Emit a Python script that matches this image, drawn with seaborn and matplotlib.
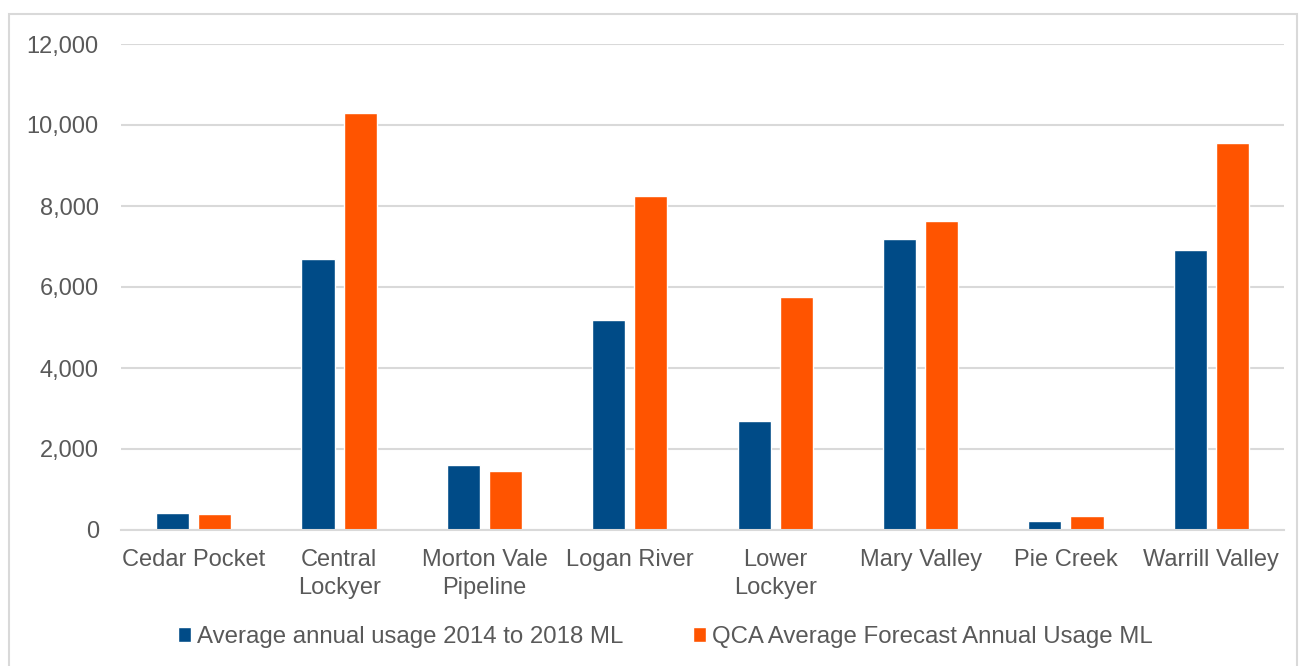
import matplotlib
matplotlib.use("Agg")
import matplotlib.pyplot as plt
from matplotlib.patches import Rectangle
from matplotlib.ticker import FuncFormatter
import seaborn as sns
import pandas as pd

schemes = ["Cedar Pocket", "Central\nLockyer", "Morton Vale\nPipeline", "Logan River",
           "Lower\nLockyer", "Mary Valley", "Pie Creek", "Warrill Valley"]
avg_usage_2014_2018 = [410, 6690, 1610, 5180, 2700, 7190, 220, 6910]
qca_forecast = [390, 10300, 1460, 8250, 5750, 7630, 340, 9550]
series_names = ["Average annual usage 2014 to 2018 ML",
                "QCA Average Forecast Annual Usage ML"]
y_ticks = [0, 2000, 4000, 6000, 8000, 10000, 12000]

df = pd.DataFrame({
    "scheme": schemes * 2,
    "usage": avg_usage_2014_2018 + qca_forecast,
    "series": [series_names[0]] * len(schemes) + [series_names[1]] * len(schemes),
})

sns.set_theme(style="white")
plt.rcParams["font.family"] = ["Liberation Sans", "DejaVu Sans"]

text_color = "#595959"
grid_color = "#d9d9d9"
colors = ["#004B87", "#FF5400"]

fig = plt.figure(figsize=(13, 6.66), dpi=100)
W, H = 1300, 666
ax = fig.add_axes([121 / W, 1 - 530 / H, (1284 - 121) / W, (530 - 44) / H])

sns.barplot(data=df, x="scheme", y="usage", hue="series", order=schemes,
            hue_order=series_names, palette=colors, width=0.58, gap=0.214,
            saturation=1, ax=ax)

ax.set_xlim(-0.5, len(schemes) - 0.5)
ax.set_ylim(0, 12000)
ax.set_yticks(y_ticks)
ax.yaxis.set_major_formatter(FuncFormatter(lambda v, p: f"{int(v):,}"))
ax.set_xlabel("")
ax.set_ylabel("")
ax.grid(axis="y", color=grid_color, linewidth=1.5)
ax.set_axisbelow(True)
for side in ["left", "right", "top"]:
    ax.spines[side].set_visible(False)
ax.spines["bottom"].set_color(grid_color)
ax.spines["bottom"].set_linewidth(1.5)
ax.tick_params(axis="both", length=0, labelsize=17, labelcolor=text_color)
ax.tick_params(axis="y", pad=16)
ax.tick_params(axis="x", pad=14)
for lbl in ax.get_xticklabels():
    lbl.set_linespacing(1.3)

handles, labels = ax.get_legend_handles_labels()
ax.get_legend().remove()
fig.legend(handles, labels, loc="center", bbox_to_anchor=(0.512, 1 - 637 / H),
           ncol=2, frameon=False, fontsize=17.3, labelcolor=text_color,
           handlelength=0.55, handleheight=0.6, handletextpad=0.25,
           columnspacing=2.9)

# thin frame around the whole chart
fig.patches.append(Rectangle((9 / W, -0.01), (1297 - 9) / W, 1 - 14 / H + 0.01,
                             transform=fig.transFigure, fill=False,
                             edgecolor=grid_color, linewidth=1.5))

fig.savefig("out.png", dpi=100, facecolor="white")
